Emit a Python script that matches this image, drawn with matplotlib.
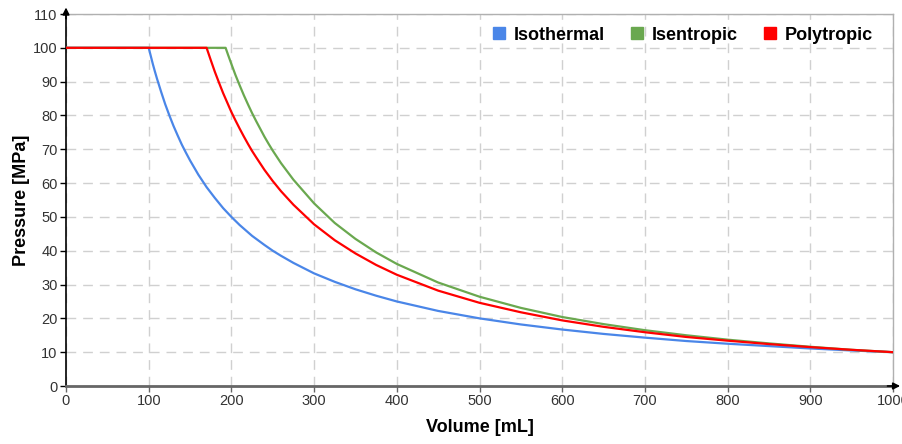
import matplotlib
matplotlib.use("Agg")
import matplotlib.pyplot as plt

plt.rcParams["font.family"] = ["Liberation Sans", "DejaVu Sans"]

# Pressure vs volume for three compression processes
iso_volume = [0, 100, 102.5, 105, 107.5, 110, 115, 120, 125, 130, 135, 140, 145, 150, 160,
              170, 180, 190, 200, 210, 225, 240, 250, 260, 275, 300, 325, 350, 375, 400,
              450, 500, 550, 600, 650, 700, 750, 800, 850, 900, 950, 1000]
iso_pressure = [100, 100, 97.6, 95.2, 93.0, 90.9, 87.0, 83.3, 80.0, 76.9, 74.1, 71.4, 69.0,
                66.7, 62.5, 58.8, 55.6, 52.6, 50.0, 47.6, 44.4, 41.7, 40.0, 38.5, 36.4,
                33.3, 30.8, 28.6, 26.7, 25.0, 22.2, 20.0, 18.2, 16.7, 15.4, 14.3, 13.3,
                12.5, 11.8, 11.1, 10.5, 10.0]

isen_volume = [0, 193, 196, 200, 205, 210, 215, 220, 225, 230, 235, 240, 245, 250, 260,
               275, 300, 325, 350, 375, 400, 450, 500, 550, 600, 650, 700, 750, 800, 850,
               900, 950, 1000]
isen_pressure = [100, 100, 97.9, 95.2, 91.9, 88.9, 86.0, 83.3, 80.7, 78.3, 76.0, 73.7,
                 71.6, 69.6, 65.9, 61.0, 54.0, 48.2, 43.5, 39.5, 36.1, 30.6, 26.4, 23.1,
                 20.4, 18.3, 16.5, 15.0, 13.7, 12.6, 11.6, 10.7, 10.0]

poly_volume = [0, 170, 172.5, 175, 180, 185, 190, 195, 200, 205, 210, 215, 220, 225, 230,
               240, 250, 260, 275, 300, 325, 350, 375, 400, 450, 500, 550, 600, 650, 700,
               750, 800, 850, 900, 950, 1000]
poly_pressure = [100, 100, 98.2, 96.4, 92.9, 89.7, 86.6, 83.8, 81.0, 78.5, 76.1, 73.8,
                 71.6, 69.5, 67.6, 63.9, 60.6, 57.6, 53.6, 47.8, 43.1, 39.2, 35.8, 32.9,
                 28.2, 24.6, 21.8, 19.4, 17.5, 15.9, 14.5, 13.4, 12.4, 11.5, 10.7, 10.0]

series_names = ["Isothermal", "Isentropic", "Polytropic"]
series_colors = ["#4A86E8", "#6AA84F", "#FF0000"]

x_ticks = list(range(0, 1001, 100))
y_ticks = list(range(0, 111, 10))

fig = plt.figure(figsize=(9.02, 4.44), dpi=100)
ax = fig.add_axes([66 / 902, 1 - 386 / 444, (893 - 66) / 902, (386 - 14) / 444])

data = [(iso_volume, iso_pressure), (isen_volume, isen_pressure), (poly_volume, poly_pressure)]
for (vol, pres), name, color in zip(data, series_names, series_colors):
    ax.plot(vol, pres, color=color, lw=1.6, label=name, solid_joinstyle="round",
            solid_capstyle="round", zorder=3)

ax.set_xlim(0, 1000)
ax.set_ylim(0, 110)
ax.set_xticks(x_ticks)
ax.set_yticks(y_ticks)
ax.set_xticklabels([str(t) for t in x_ticks])
ax.set_yticklabels([str(t) for t in y_ticks])

ax.grid(True, color="#d0d0d0", linestyle=(0, (7, 5)), linewidth=1.0, zorder=0)
ax.set_axisbelow(True)

ax.spines["top"].set_color("#b0b0b0")
ax.spines["top"].set_linewidth(1.0)
ax.spines["right"].set_color("#b0b0b0")
ax.spines["right"].set_linewidth(1.0)
ax.spines["left"].set_color("black")
ax.spines["left"].set_linewidth(1.2)
ax.spines["bottom"].set_color("#666666")
ax.spines["bottom"].set_linewidth(2.0)

ax.tick_params(axis="both", labelsize=10.5, colors="#333333", length=4, width=1, pad=2)
ax.tick_params(axis="y", color="black")
ax.tick_params(axis="x", color="#666666")

# Arrow heads on the axes
ax.annotate("", xy=(0, 1.025), xytext=(0, 0.98), xycoords="axes fraction",
            arrowprops=dict(arrowstyle="-|>", color="black", lw=1.2, mutation_scale=10),
            annotation_clip=False)
ax.annotate("", xy=(1.012, 0), xytext=(0.99, 0), xycoords="axes fraction",
            arrowprops=dict(arrowstyle="-|>", color="black", lw=1.2, mutation_scale=10),
            annotation_clip=False)

ax.set_xlabel("Volume [mL]", fontsize=13, fontweight="bold", labelpad=8)
ax.set_ylabel("Pressure [MPa]", fontsize=13, fontweight="bold", labelpad=2)

handles = [plt.Line2D([], [], marker="s", linestyle="none", markersize=9,
                      markerfacecolor=c, markeredgecolor=c) for c in series_colors]
ax.legend(handles, series_names, loc="upper right", ncol=3, frameon=False,
          prop={"weight": "bold", "size": 13}, handlelength=0.8, handletextpad=0.4,
          columnspacing=1.4, bbox_to_anchor=(0.995, 1.01))

fig.savefig("out.png", dpi=100)
